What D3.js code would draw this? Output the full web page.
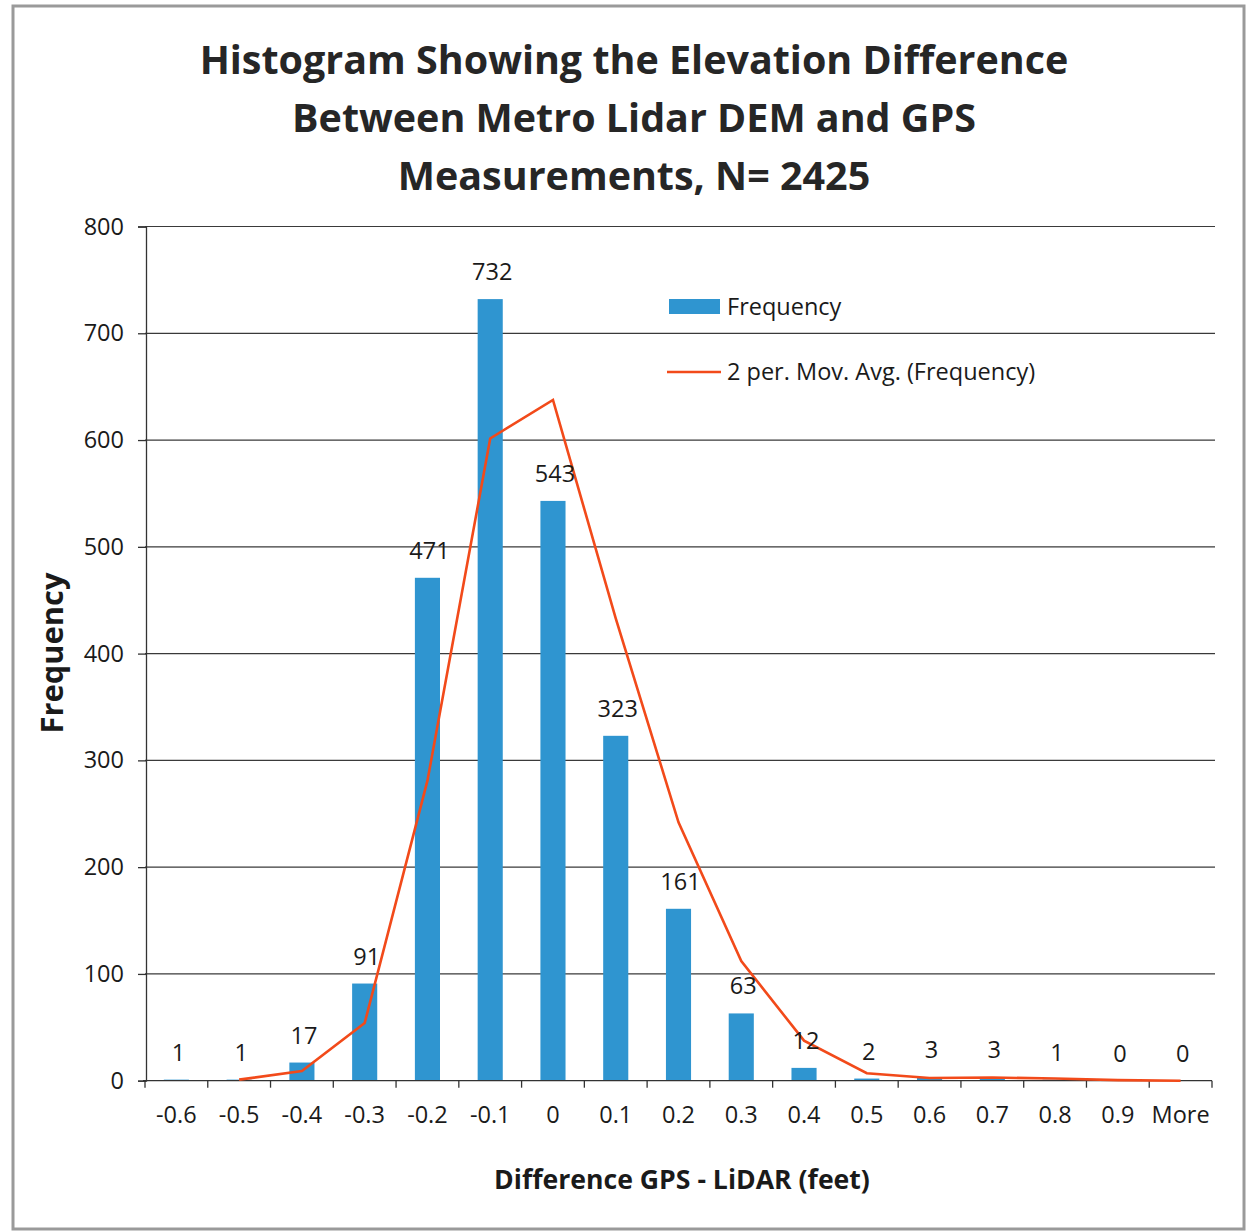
<!DOCTYPE html>
<html><head><meta charset="utf-8">
<script src="https://cdn.jsdelivr.net/npm/d3@7"></script>
<style>body{margin:0;background:#fff}svg{display:block}text{font-family:"Open Sans",sans-serif;fill:#1a1a1a}</style>
</head><body>
<script>
const categories = ["-0.6","-0.5","-0.4","-0.3","-0.2","-0.1","0","0.1","0.2","0.3","0.4","0.5","0.6","0.7","0.8","0.9","More"];
const frequency = [1,1,17,91,471,732,543,323,161,63,12,2,3,3,1,0,0];
const movAvgCategories = ["-0.5","-0.4","-0.3","-0.2","-0.1","0","0.1","0.2","0.3","0.4","0.5","0.6","0.7","0.8","0.9","More"];
const movAvg = [1,9,54,281,601.5,637.5,433,242,112,37.5,7,2.5,3,2,0.5,0];
const yTicks = [0,100,200,300,400,500,600,700,800];
const titleLines = ["Histogram Showing the Elevation Difference","Between Metro Lidar DEM and GPS","Measurements, N= 2425"];

const W=1249,H=1232;
const FS="23.5px";
const svg=d3.select("body").append("svg").attr("width",W).attr("height",H);
svg.append("rect").attr("x",13).attr("y",6).attr("width",1231).attr("height",1223)
  .attr("fill","#fff").attr("stroke","#9a9a9a").attr("stroke-width",3);

const L=145,R=1212,T=226.5,B=1080.7;
const x=d3.scaleBand().domain(categories).range([L,R]).paddingInner(0.6).paddingOuter(0.3);
const xc=d=>x(d)+x.bandwidth()/2;
const y=d3.scaleLinear().domain([0,800]).range([B,T]);

function fit(sel,target,start){
  let fs=start; sel.style("font-size",fs+"px");
  const w=sel.node().getComputedTextLength();
  fs=fs*target/w; sel.style("font-size",fs+"px"); return fs;
}

// title
const tl=[{y:74},{y:132},{y:190}];
let tfs=null;
titleLines.forEach((t,i)=>{
  const s=svg.append("text").attr("x",634).attr("y",tl[i].y).attr("text-anchor","middle")
    .style("font-weight","bold").style("fill","#262626").text(t);
  if(i===0){tfs=fit(s,869,38);} else s.style("font-size",tfs+"px");
});

// gridlines
svg.append("g").selectAll("line").data(yTicks.filter(v=>v>0)).join("line")
  .attr("x1",L).attr("x2",1215).attr("y1",d=>y(d)).attr("y2",d=>y(d))
  .attr("stroke","#3a3a3a").attr("stroke-width",1.2);

// y axis
const ya=svg.append("g").attr("transform",`translate(${L+1},0)`)
  .call(d3.axisLeft(y).tickValues(yTicks).tickSize(8).tickPadding(14).tickFormat(d3.format("d")));
ya.select(".domain").attr("stroke","#333").attr("stroke-width",1.3);
ya.selectAll(".tick line").attr("stroke","#333").attr("stroke-width",1.3);
ya.selectAll("text").style("font-size",FS).style("font-family","'Open Sans',sans-serif").attr("fill","#1a1a1a");

// bars
svg.append("g").selectAll("rect").data(frequency).join("rect")
  .attr("x",(d,i)=>x(categories[i])).attr("width",x.bandwidth())
  .attr("y",d=>y(d)).attr("height",d=>B-y(d)).attr("fill","#2f95d0");

// x axis
const step=(R-L)/categories.length;
const xa=svg.append("g").attr("transform",`translate(0,${B})`);
xa.append("line").attr("x1",L-2).attr("x2",R).attr("y1",0).attr("y2",0).attr("stroke","#333").attr("stroke-width",1.3);
xa.selectAll("line.tk").data(d3.range(categories.length+1)).join("line").attr("class","tk")
  .attr("x1",i=>L+i*step).attr("x2",i=>L+i*step).attr("y1",0).attr("y2",7).attr("stroke","#333").attr("stroke-width",1.3);
xa.selectAll("text").data(categories).join("text")
  .attr("x",d=>xc(d)).attr("y",42).attr("text-anchor","middle").style("font-size",FS).text(d=>d);

// moving average line
const line=d3.line().x((d,i)=>xc(movAvgCategories[i])).y(d=>y(d));
svg.append("path").datum(movAvg).attr("d",line).attr("fill","none")
  .attr("stroke","#f24a1a").attr("stroke-width",2.6).attr("stroke-linejoin","miter");

// data labels
svg.append("g").selectAll("text").data(frequency).join("text")
  .attr("x",(d,i)=>xc(categories[i])+2).attr("y",d=>y(d)-19).attr("text-anchor","middle")
  .style("font-size",FS).text(d=>d);

// legend
svg.append("rect").attr("x",669).attr("y",299).attr("width",51).attr("height",15).attr("fill","#2f95d0");
svg.append("text").attr("x",727).attr("y",315).style("font-size",FS).text("Frequency");
svg.append("line").attr("x1",667).attr("x2",721).attr("y1",372).attr("y2",372).attr("stroke","#f24a1a").attr("stroke-width",2.6);
svg.append("text").attr("x",727).attr("y",380).style("font-size",FS).text("2 per. Mov. Avg. (Frequency)");

// axis titles
const xt=svg.append("text").attr("x",682).attr("y",1189).attr("text-anchor","middle")
  .style("font-weight","bold").text("Difference GPS - LiDAR (feet)");
fit(xt,376,24);
const yt=svg.append("text").attr("transform","translate(63,653) rotate(-90)").attr("text-anchor","middle")
  .style("font-weight","bold").text("Frequency");
fit(yt,161,26);
</script>
</body></html>
